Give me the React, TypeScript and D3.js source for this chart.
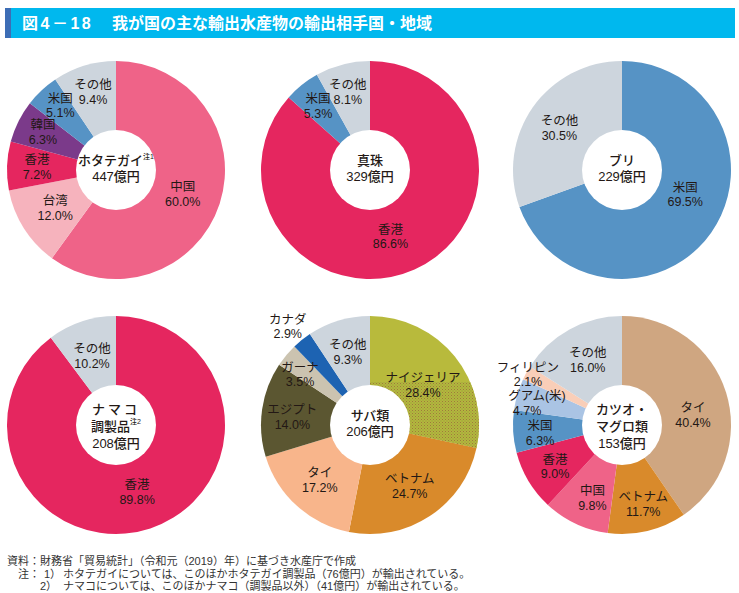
import React from "react";
import * as d3 from "d3";

// ---------- DATA ----------
const titleNumber = "図4－18";
const titleText = "我が国の主な輸出水産物の輸出相手国・地域";

const hotateCountries = ["中国", "台湾", "香港", "韓国", "米国", "その他"];
const hotateShares = [60.0, 12.0, 7.2, 6.3, 5.1, 9.4];

const shinjuCountries = ["香港", "米国", "その他"];
const shinjuShares = [86.6, 5.3, 8.1];

const buriCountries = ["米国", "その他"];
const buriShares = [69.5, 30.5];

const namakoCountries = ["香港", "その他"];
const namakoShares = [89.8, 10.2];

const sabaCountries = ["ナイジェリア", "ベトナム", "タイ", "エジプト", "ガーナ", "カナダ", "その他"];
const sabaShares = [28.4, 24.7, 17.2, 14.0, 3.5, 2.9, 9.3];

const katsuoCountries = ["タイ", "ベトナム", "中国", "香港", "米国", "グアム(米)", "フィリピン", "その他"];
const katsuoShares = [40.4, 11.7, 9.8, 9.0, 6.3, 4.7, 2.1, 16.0];

const centerHotate = ["ホタテガイ", "447億円"];
const centerShinju = ["真珠", "329億円"];
const centerBuri = ["ブリ", "229億円"];
const centerNamako = ["ナマコ", "調製品", "208億円"];
const centerSaba = ["サバ類", "206億円"];
const centerKatsuo = ["カツオ・", "マグロ類", "153億円"];

const footSource = "財務省「貿易統計」（令和元（2019）年）に基づき水産庁で作成";
const footNote1 = "ホタテガイについては、このほかホタテガイ調製品（76億円）が輸出されている。";
const footNote2 = "ナマコについては、このほかナマコ（調製品以外）（41億円）が輸出されている。";

// ---------- STYLE / LAYOUT ----------
const C = {
  china: "#ef6388",
  hk: "#e5265f",
  taiwan: "#f6b3bd",
  korea: "#7b3a8a",
  us: "#5693c5",
  other: "#cdd5dd",
  nigeria: "#b8ba3c",
  vietnam: "#d98a2b",
  thaiPeach: "#f8b58b",
  egypt: "#5b5631",
  ghana: "#cbc3b0",
  canada: "#1d63b2",
  thaiTan: "#cfa681",
  guam: "#aac4e4",
  phil: "#f9ceb8",
};
const TEXT = "#231815";
const FONT = "'Liberation Sans', 'Noto Sans CJK JP', sans-serif";

const R_OUT = 109;
const R_IN = 40;

type LabelPos = [number, number | null, number?, number?]; // radius, angle (deg) or null=mid, dx line1, dx line2

interface PieSpec {
  key: string;
  cx: number;
  cy: number;
  names: string[];
  values: number[];
  colors: string[];
  center: string[];
  supLine?: number;
  supText?: string;
  spacedLine?: number;
  labels: LabelPos[];
}

const pies: PieSpec[] = [
  {
    key: "hotate", cx: 116, cy: 170, names: hotateCountries, values: hotateShares,
    colors: [C.china, C.taiwan, C.hk, C.korea, C.us, C.other],
    center: centerHotate, supLine: 0, supText: "注1",
    labels: [[71, 110], [72, null], [79, 272], [82, 297], [85, 319], [81, 343.5]],
  },
  {
    key: "shinju", cx: 370, cy: 170, names: shinjuCountries, values: shinjuShares,
    colors: [C.hk, C.us, C.other], center: centerShinju,
    labels: [[70, 163], [82, 320.7], [80.6, 344]],
  },
  {
    key: "buri", cx: 622, cy: 170, names: buriCountries, values: buriShares,
    colors: [C.us, C.other], center: centerBuri,
    labels: [[68, 111.6], [75, 303.4]],
  },
  {
    key: "namako", cx: 116, cy: 425, names: namakoCountries, values: namakoShares,
    colors: [C.hk, C.other], center: centerNamako, supLine: 1, supText: "注2", spacedLine: 0,
    labels: [[71, 162.7], [72.6, 340.7]],
  },
  {
    key: "saba", cx: 370, cy: 425, names: sabaCountries, values: sabaShares,
    colors: [C.nigeria, C.vietnam, C.thaiPeach, C.egypt, C.ghana, C.canada, C.other],
    center: centerSaba,
    labels: [[66, 53.3], [73, 147], [75, 222], [78, 275.5], [86, 305.5], [128, 320], [76, 343]],
  },
  {
    key: "katsuo", cx: 622, cy: 425, names: katsuoCountries, values: katsuoShares,
    colors: [C.thaiTan, C.vietnam, C.china, C.hk, C.us, C.guam, C.phil, C.other],
    center: centerKatsuo,
    labels: [[71.6, 82.4], [82, 165], [79, 202], [79, 238], [82.4, 264], [92.5, 283.4, 5, -5], [106.5, 298], [73, 332]],
  },
];

const fmt = d3.format(".1f");

function Pie({ spec }: { spec: PieSpec }) {
  const pieGen = d3.pie<number>().sort(null).value((d) => d);
  const arcs = pieGen(spec.values);
  const arcGen = d3.arc<d3.PieArcDatum<number>>().innerRadius(0).outerRadius(R_OUT);
  const n = spec.center.length;
  const spacing = n === 3 ? 17 : 16;
  const c0 = n === 3 ? 1 : -1.5;
  return (
    <g transform={`translate(${spec.cx},${spec.cy})`}>
      {arcs.map((a, i) => (
        <path key={i} d={arcGen(a) || ""} fill={spec.colors[i]} />
      ))}
      {spec.key === "saba" && (
        <g clipPath="url(#nigeriaClip)">
          <path d={arcGen(arcs[0]) || ""} fill="url(#dots)" />
        </g>
      )}
      <circle r={R_IN} fill="#fff" />
      {spec.center.map((t, i) => (
        <text
          key={i}
          x={0}
          y={c0 + (i - (n - 1) / 2) * spacing}
          textAnchor="middle"
          dominantBaseline="central"
          fontSize={13}
          fontWeight={500}
          fill={TEXT}
          letterSpacing={spec.spacedLine === i ? 3 : 0}
        >
          {t}
          {spec.supLine === i && (
            <tspan fontSize={7} dy={-5}>{spec.supText}</tspan>
          )}
        </text>
      ))}
      {arcs.map((a, i) => {
        const [r, ang, dx1 = 0, dx2 = 0] = spec.labels[i];
        const mid = ((a.startAngle + a.endAngle) / 2) * 180 / Math.PI;
        const th = ((ang == null ? mid : ang) * Math.PI) / 180;
        const x = r * Math.sin(th);
        const y = -r * Math.cos(th);
        return (
          <g key={"l" + i} fill={TEXT} fontSize={12.5}>
            <text x={x + dx1} y={y - 7.3} textAnchor="middle" dominantBaseline="central">
              {spec.names[i]}
            </text>
            <text x={x + dx2} y={y + 7.3} textAnchor="middle" dominantBaseline="central">
              {fmt(spec.values[i]) + "%"}
            </text>
          </g>
        );
      })}
    </g>
  );
}

export default function App() {
  return (
    <svg
      width={739}
      height={593}
      style={{ position: "absolute", left: 0, top: 0, background: "#fff" }}
      fontFamily={FONT}
    >
      <defs>
        <pattern id="dots" width={3} height={3} patternUnits="userSpaceOnUse">
          <rect width={3} height={3} fill="#b5b63d" />
          <rect x={0} y={0} width={1} height={1} fill="#9a7d3c" />
          <rect x={1.5} y={1.5} width={1} height={1} fill="#8f9a3a" />
        </pattern>
        <clipPath id="nigeriaClip">
          <rect x={-200} y={-43} width={400} height={300} />
        </clipPath>
      </defs>
      <rect x={0} y={0} width={739} height={593} fill="#fff" />
      {/* title bar */}
      <rect x={5} y={8} width={730} height={30} fill="#00b8ee" />
      <rect x={5} y={8} width={6} height={30} fill="#3d6db5" />
      <text x={22} y={23} dominantBaseline="central" fill="#fff" fontSize={16} fontWeight="bold" letterSpacing={2.5}>
        {titleNumber}
      </text>
      <text x={112} y={23} dominantBaseline="central" fill="#fff" fontSize={16} fontWeight="bold">
        {titleText}
      </text>
      {pies.map((p) => (
        <Pie key={p.key} spec={p} />
      ))}
      {/* footnotes */}
      <g fill="#333" fontSize={11}>
        <text x={7} y={561} dominantBaseline="central">{"資料："}</text>
        <text x={40} y={561} dominantBaseline="central">{footSource}</text>
        <text x={40} y={573.5} dominantBaseline="central" textAnchor="end">{"注："}</text>
        <text x={44} y={573.5} dominantBaseline="central">{"1）"}</text>
        <text x={63} y={573.5} dominantBaseline="central">{footNote1}</text>
        <text x={40} y={586} dominantBaseline="central">{"2）"}</text>
        <text x={63} y={586} dominantBaseline="central">{footNote2}</text>
      </g>
    </svg>
  );
}
